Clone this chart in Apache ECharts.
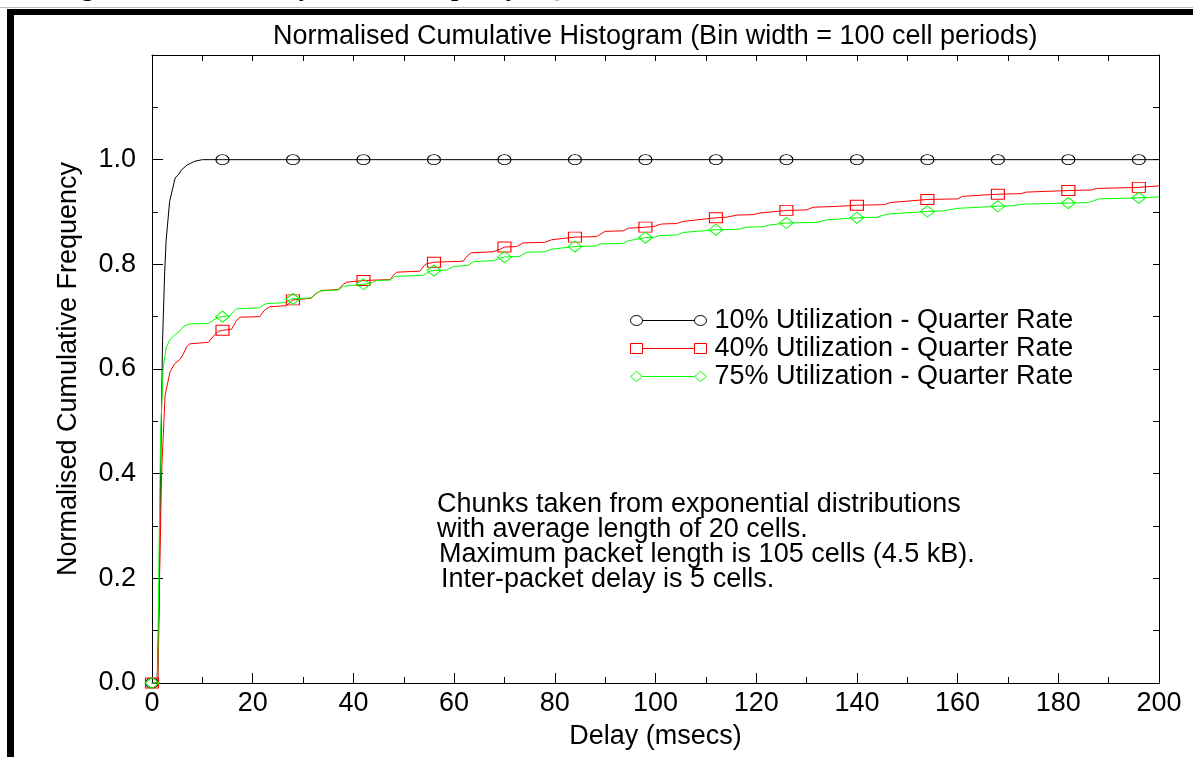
<!DOCTYPE html>
<html>
<head>
<meta charset="utf-8">
<script src="https://cdn.jsdelivr.net/npm/echarts@6/dist/echarts.min.js"></script>
<style>
html,body{margin:0;padding:0;background:#fff;}
#chart{width:1193px;height:757px;}
</style>
</head>
<body>
<div id="chart"></div>
<script>
// ---- data ----
const chartTitle = 'Normalised Cumulative Histogram (Bin width = 100 cell periods)';
const headerText = 'Figure 4.11: Cell Delays for Full Capacity - Quarter Rate and Bandwidth Allocation';
const xAxisName = 'Delay (msecs)';
const yAxisName = 'Normalised Cumulative Frequency';
const seriesNames = ['10% Utilization - Quarter Rate', '40% Utilization - Quarter Rate', '75% Utilization - Quarter Rate'];
const noteLines = [
  'Chunks taken from exponential distributions',
  'with average length of 20 cells.',
  'Maximum packet length is 105 cells (4.5 kB).',
  'Inter-packet delay is 5 cells.'
];
const markerEvery = 14;

const util10 = [[0,0],[1.0,0],[1.4,0.145],[1.7,0.40],[2.1,0.655],[2.5,0.78],[2.8,0.845],[3.5,0.92],[4.6,0.965],[5.3,0.972],[5.8,0.98],[7,0.99],[8.5,0.997],[10,1.0],[14,1.0],[28,1.0],[42,1.0],[56,1.0],[70,1.0],[84,1.0],[98,1.0],[112,1.0],[126,1.0],[140,1.0],[154,1.0],[168,1.0],[182,1.0],[196,1.0],[200,1.0]];

const util40 = [[0,0],[1.2,0],[1.5,0.2],[1.9,0.4],[2.6,0.55],[3.6,0.595],[4.5,0.61],[5.5,0.618],[6.2,0.628],[6.9,0.643],[7.5,0.648],[11.2,0.651],[12.3,0.664],[13.2,0.672],[14,0.674],[15.8,0.676],[16.8,0.693],[17.5,0.699],[21.4,0.700],[22.4,0.713],[23.4,0.719],[26.7,0.721],[28,0.732],[31.5,0.735],[32.5,0.744],[33.7,0.750],[37,0.752],[38,0.762],[38.7,0.766],[42,0.769],[47.3,0.771],[48,0.780],[48.6,0.785],[53.2,0.787],[54,0.797],[54.5,0.801],[56,0.804],[61.8,0.806],[62.6,0.816],[63.4,0.822],[67.8,0.824],[69.2,0.829],[70,0.833],[72.4,0.834],[73.7,0.841],[78,0.842],[79.4,0.847],[84,0.852],[88.3,0.853],[90,0.863],[93.6,0.864],[94.6,0.869],[98,0.871],[99.5,0.872],[101.2,0.877],[104.2,0.878],[105.5,0.882],[112,0.889],[114.1,0.890],[116.1,0.894],[119.4,0.895],[120.7,0.898],[126,0.903],[130,0.904],[131.3,0.909],[136.6,0.911],[140,0.913],[145.5,0.914],[146.6,0.918],[154,0.924],[160,0.925],[161,0.930],[168,0.934],[172.6,0.935],[173.6,0.938],[182,0.941],[186.6,0.942],[187.6,0.945],[196,0.947],[200,0.950]];

const util75 = [[0,0],[1.1,0],[1.4,0.25],[1.7,0.47],[2.2,0.6],[2.8,0.64],[3.5,0.655],[4.5,0.665],[5.5,0.672],[6.3,0.682],[7.5,0.686],[11.2,0.687],[12.3,0.694],[13.2,0.699],[14,0.700],[15.5,0.702],[16.2,0.710],[16.8,0.715],[21.4,0.717],[22.2,0.723],[22.8,0.725],[26.7,0.727],[27.5,0.733],[28,0.734],[31.7,0.736],[32.7,0.745],[33.4,0.749],[37,0.751],[38,0.758],[42,0.762],[43.5,0.764],[44.6,0.769],[47.3,0.770],[48.3,0.777],[53.9,0.779],[55.2,0.787],[56,0.788],[58.5,0.789],[59.9,0.796],[62.8,0.798],[63.8,0.805],[67.8,0.807],[69.2,0.812],[70,0.814],[73,0.815],[74.4,0.823],[78,0.824],[79.4,0.829],[84,0.834],[88,0.835],[89,0.839],[93.6,0.840],[94.6,0.845],[98,0.851],[99.8,0.852],[100.9,0.855],[104.2,0.856],[105.5,0.861],[112,0.866],[116.5,0.867],[118,0.871],[121.5,0.872],[122.5,0.875],[126,0.879],[132,0.880],[134,0.885],[140,0.889],[144,0.890],[146,0.896],[154,0.901],[157,0.902],[160,0.907],[168,0.911],[171,0.912],[173,0.915],[182,0.917],[186,0.918],[188,0.925],[196,0.927],[200,0.929]];

// ---- chart ----
const FONT = 'Liberation Sans';
const FS = 27;
const chart = echarts.init(document.getElementById('chart'), null, {renderer: 'canvas'});

function markerSize(size) {
  return function (val) { return (val[0] % markerEvery === 0) ? size : 0; };
}
function mkSeries(name, data, color, symbol, size) {
  return {
    name: name, type: 'line', data: data, xAxisIndex: 0, yAxisIndex: 0,
    symbol: symbol, symbolSize: markerSize(size), showAllSymbol: true,
    clip: false, animation: false, z: 3,
    lineStyle: {color: color, width: 1},
    itemStyle: {color: 'transparent', borderColor: color, borderWidth: 1},
    emphasis: {disabled: true}
  };
}

const iconCircle = 'path://M0,6 A6,5 0 1,0 12,6 A6,5 0 1,0 0,6 Z M12,6 L64,6 M64,6 A6,5 0 1,0 76,6 A6,5 0 1,0 64,6 Z';
const iconRect = 'path://M0,1 L12,1 L12,11 L0,11 Z M12,6 L64,6 M64,1 L76,1 L76,11 L64,11 Z';
const iconDiamond = 'path://M0,6 L6,1 L12,6 L6,11 Z M12,6 L64,6 M64,6 L70,1 L76,6 L70,11 Z';
const colors = ['#000000', '#ff0000', '#00ff00'];

function tickAxis(extra) {
  return Object.assign({
    type: 'value',
    axisLine: {show: true, onZero: false, lineStyle: {color: '#000', width: 1}},
    splitLine: {show: false},
  }, extra);
}

const option = {
  backgroundColor: '#ffffff',
  animation: false,
  title: {
    text: chartTitle, left: 268, top: 18,
    textStyle: {fontFamily: FONT, fontSize: FS, fontWeight: 'normal', color: '#000'}
  },
  grid: {left: 152, right: 34, top: 55, bottom: 74, containLabel: false},
  legend: {
    orient: 'vertical', left: 628, top: 307, padding: 0,
    itemWidth: 76, itemHeight: 10, itemGap: 1,
    selectedMode: false,
    textStyle: {fontFamily: FONT, fontSize: FS, color: '#000', padding: [0, 0, 0, 3]},
    data: [
      {name: seriesNames[0], icon: iconCircle, itemStyle: {color: 'none', borderColor: colors[0], borderWidth: 1}},
      {name: seriesNames[1], icon: iconRect, itemStyle: {color: 'none', borderColor: colors[1], borderWidth: 1}},
      {name: seriesNames[2], icon: iconDiamond, itemStyle: {color: 'none', borderColor: colors[2], borderWidth: 1}}
    ]
  },
  xAxis: [
    tickAxis({
      position: 'bottom', min: 0, max: 200, interval: 20,
      axisTick: {show: true, inside: true, length: 10, lineStyle: {color: '#000'}},
      minorTick: {show: true, splitNumber: 2, length: 6, lineStyle: {color: '#000'}},
      axisLabel: {fontFamily: FONT, fontSize: FS, color: '#000', margin: 7},
      name: xAxisName, nameLocation: 'middle', nameGap: 40,
      nameTextStyle: {fontFamily: FONT, fontSize: FS, color: '#000'}
    }),
    tickAxis({
      position: 'top', min: 0, max: 200, interval: 10,
      axisTick: {show: true, inside: true, length: 6, lineStyle: {color: '#000'}},
      axisLabel: {show: false}
    })
  ],
  yAxis: [
    tickAxis({
      position: 'left', min: 0, max: 1.2, interval: 0.2,
      axisTick: {show: true, inside: true, length: 11, lineStyle: {color: '#000'}},
      minorTick: {show: true, splitNumber: 2, length: 6, lineStyle: {color: '#000'}},
      axisLabel: {
        fontFamily: FONT, fontSize: FS, color: '#000', margin: 16,
        formatter: function (v) { return v > 1.1 ? '' : v.toFixed(1); }
      },
      name: yAxisName, nameLocation: 'middle', nameGap: 70, nameRotate: 90,
      nameTextStyle: {fontFamily: FONT, fontSize: FS, color: '#000'}
    }),
    tickAxis({
      position: 'right', min: 0, max: 1.2, interval: 0.1,
      axisTick: {show: true, inside: true, length: 6, lineStyle: {color: '#000'}},
      axisLabel: {show: false}
    })
  ],
  graphic: [
    {type: 'text', left: 58, top: -24, silent: true,
      style: {text: headerText, font: 'bold 26px "Liberation Serif"', fill: '#000'}},
    {type: 'rect', shape: {x: 0, y: 7, width: 1193, height: 1}, style: {fill: '#bbbbbb'}, silent: true},
    {type: 'rect', shape: {x: 7, y: 9, width: 1186, height: 6}, style: {fill: '#000'}, silent: true},
    {type: 'rect', shape: {x: 7, y: 9, width: 7, height: 748}, style: {fill: '#000'}, silent: true},
    {type: 'text', x: 437, y: 491, silent: true, style: {text: noteLines[0], font: FS + 'px "Liberation Sans"', fill: '#000'}},
    {type: 'text', x: 437, y: 516, silent: true, style: {text: noteLines[1], font: FS + 'px "Liberation Sans"', fill: '#000'}},
    {type: 'text', x: 439, y: 541, silent: true, style: {text: noteLines[2], font: FS + 'px "Liberation Sans"', fill: '#000'}},
    {type: 'text', x: 441, y: 566, silent: true, style: {text: noteLines[3], font: FS + 'px "Liberation Sans"', fill: '#000'}}
  ],
  series: [
    mkSeries(seriesNames[0], util10, colors[0], 'circle', [13, 10]),
    mkSeries(seriesNames[1], util40, colors[1], 'rect', [13, 10]),
    mkSeries(seriesNames[2], util75, colors[2], 'diamond', [14, 11])
  ]
};
chart.setOption(option);
</script>
</body>
</html>
